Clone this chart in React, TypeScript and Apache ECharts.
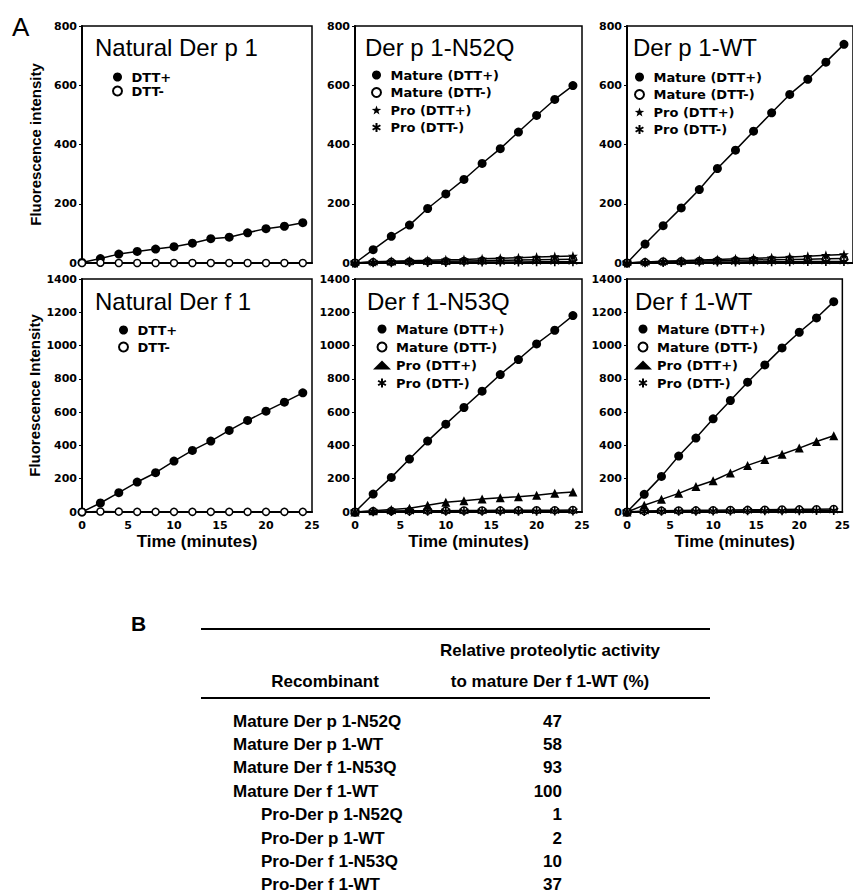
import React, { useEffect, useRef } from "react";
import * as echarts from "echarts";

// ---------- data ----------
const timeMin = [0, 2, 4, 6, 8, 10, 12, 14, 16, 18, 20, 22, 24];

const natDerp1DttPlus = [2, 15, 30, 39, 47, 55, 67, 82, 87, 102, 116, 124, 136];
const natDerp1DttMinus = [0, 1, 0, 0, 0, 0, 0, 0, 0, 0, 0, 0, 0];

const derp1N52qMatPlus = [0, 45, 90, 128, 184, 233, 282, 336, 386, 442, 498, 552, 599];
const derp1N52qMatMinus = [0, 3, 4, 5, 6, 6, 7, 8, 9, 10, 11, 12, 13];
const derp1N52qProPlus = [0, 4, 6, 8, 9, 11, 12, 14, 16, 18, 20, 22, 24];
const derp1N52qProMinus = [0, 1, 1, 2, 2, 2, 3, 3, 3, 3, 4, 4, 4];

const derp1WtMatPlus = [0, 64, 126, 186, 248, 319, 381, 445, 507, 569, 620, 678, 738];
const derp1WtMatMinus = [0, 3, 5, 6, 7, 8, 9, 10, 11, 12, 13, 14, 15];
const derp1WtProPlus = [0, 3, 6, 8, 10, 12, 14, 16, 18, 20, 23, 26, 29];
const derp1WtProMinus = [0, 1, 2, 2, 3, 3, 3, 4, 4, 4, 5, 5, 5];

const natDerf1DttPlus = [0, 54, 116, 180, 236, 306, 370, 426, 490, 550, 606, 660, 716];
const natDerf1DttMinus = [0, 3, 2, 1, 1, 1, 1, 1, 1, 1, 1, 1, 1];

const derf1N53qMatPlus = [0, 108, 208, 318, 426, 528, 628, 726, 826, 916, 1010, 1092, 1180];
const derf1N53qMatMinus = [0, 5, 6, 7, 8, 8, 9, 9, 10, 10, 11, 11, 12];
const derf1N53qProPlus = [0, 8, 15, 22, 40, 58, 68, 78, 86, 92, 100, 112, 120];
const derf1N53qProMinus = [0, 2, 3, 3, 4, 4, 4, 5, 5, 5, 5, 6, 6];

const derf1WtMatPlus = [0, 106, 214, 336, 444, 560, 670, 780, 884, 986, 1080, 1166, 1264];
const derf1WtMatMinus = [0, 6, 8, 9, 10, 11, 12, 13, 14, 15, 16, 17, 18];
const derf1WtProPlus = [0, 41, 76, 112, 153, 188, 235, 280, 316, 347, 384, 424, 458];
const derf1WtProMinus = [0, 3, 4, 5, 5, 6, 6, 7, 7, 8, 8, 9, 9];

const panelTitles = ["Natural Der p 1", "Der p 1-N52Q", "Der p 1-WT", "Natural Der f 1", "Der f 1-N53Q", "Der f 1-WT"];
const xTicks = [0, 5, 10, 15, 20, 25];
const yMaxTop = 800;
const yMaxBottom = 1400;
const yStep = 200;

const tableHeader1 = "Relative proteolytic activity";
const tableHeader2 = "to mature Der f 1-WT (%)";
const tableHeaderLeft = "Recombinant";
const recombinants = [
  "Mature Der p 1-N52Q",
  "Mature Der p 1-WT",
  "Mature Der f 1-N53Q",
  "Mature Der f 1-WT",
  "Pro-Der p 1-N52Q",
  "Pro-Der p 1-WT",
  "Pro-Der f 1-N53Q",
  "Pro-Der f 1-WT",
];
const activity = [47, 58, 93, 100, 1, 2, 10, 37];

// ---------- styles ----------
const STAR = "path://M0,-10L2.35,-3.24L9.51,-3.09L3.8,1.24L5.88,8.09L0,4L-5.88,8.09L-3.8,1.24L-9.51,-3.09L-2.35,-3.24Z";
const ASTER = "path://M0,-10L0,10M-8.66,-5L8.66,5M-8.66,5L8.66,-5";
const SANS = '"Liberation Sans", Arial, sans-serif';
const WIDE = '"DejaVu Sans", sans-serif';

type Kind = "filled" | "open" | "star" | "tri" | "aster";
function markerStyle(kind: Kind) {
  switch (kind) {
    case "filled":
      return { symbol: "circle", symbolSize: 9, itemStyle: { color: "#000", borderColor: "#000", borderWidth: 0 } };
    case "open":
      return { symbol: "circle", symbolSize: 7, itemStyle: { color: "#fff", borderColor: "#000", borderWidth: 1.5 } };
    case "star":
      return { symbol: STAR, symbolSize: 10, itemStyle: { color: "#000", borderColor: "#000", borderWidth: 0 } };
    case "tri":
      return { symbol: "triangle", symbolSize: 9, itemStyle: { color: "#000", borderColor: "#000", borderWidth: 0 } };
    case "aster":
      return { symbol: ASTER, symbolSize: 9, itemStyle: { color: "#000", borderColor: "#000", borderWidth: 1.6 } };
  }
}
function legendIcon(kind: Kind) {
  if (kind === "filled" || kind === "open") return "circle";
  if (kind === "star") return STAR;
  if (kind === "tri") return "triangle";
  return ASTER;
}

type Spec = { name: string; data: number[]; kind: Kind };
const panels: Spec[][] = [
  [
    { name: "DTT+", data: natDerp1DttPlus, kind: "filled" },
    { name: "DTT-", data: natDerp1DttMinus, kind: "open" },
  ],
  [
    { name: "Mature (DTT+)", data: derp1N52qMatPlus, kind: "filled" },
    { name: "Mature (DTT-)", data: derp1N52qMatMinus, kind: "open" },
    { name: "Pro (DTT+)", data: derp1N52qProPlus, kind: "star" },
    { name: "Pro (DTT-)", data: derp1N52qProMinus, kind: "aster" },
  ],
  [
    { name: "Mature (DTT+)", data: derp1WtMatPlus, kind: "filled" },
    { name: "Mature (DTT-)", data: derp1WtMatMinus, kind: "open" },
    { name: "Pro (DTT+)", data: derp1WtProPlus, kind: "star" },
    { name: "Pro (DTT-)", data: derp1WtProMinus, kind: "aster" },
  ],
  [
    { name: "DTT+", data: natDerf1DttPlus, kind: "filled" },
    { name: "DTT-", data: natDerf1DttMinus, kind: "open" },
  ],
  [
    { name: "Mature (DTT+)", data: derf1N53qMatPlus, kind: "filled" },
    { name: "Mature (DTT-)", data: derf1N53qMatMinus, kind: "open" },
    { name: "Pro (DTT+)", data: derf1N53qProPlus, kind: "tri" },
    { name: "Pro (DTT-)", data: derf1N53qProMinus, kind: "aster" },
  ],
  [
    { name: "Mature (DTT+)", data: derf1WtMatPlus, kind: "filled" },
    { name: "Mature (DTT-)", data: derf1WtMatMinus, kind: "open" },
    { name: "Pro (DTT+)", data: derf1WtProPlus, kind: "tri" },
    { name: "Pro (DTT-)", data: derf1WtProMinus, kind: "aster" },
  ],
];

// layout
const cols = [
  { left: 82, right: 312 },
  { left: 355, right: 582 },
  { left: 627, right: 855 },
];
const rows = [
  { top: 26, bottom: 263 },
  { top: 279, bottom: 512 },
];
const titlePos = [
  { x: 95, y: 35 },
  { x: 365, y: 35 },
  { x: 633, y: 35 },
  { x: 95, y: 289 },
  { x: 367, y: 289 },
  { x: 635, y: 289 },
];
const legendPos = [
  { x: 112, y: 70, gap: 0 },
  { x: 371, y: 68, gap: 3.5 },
  { x: 634, y: 70, gap: 3.5 },
  { x: 118, y: 323, gap: 3 },
  { x: 373, y: 322, gap: 4 },
  { x: 634, y: 322, gap: 4 },
];

function buildOption() {
  const grid: any[] = [];
  const xAxis: any[] = [];
  const yAxis: any[] = [];
  const series: any[] = [];
  const legend: any[] = [];
  const title: any[] = [];

  panels.forEach((specs, p) => {
    const r = Math.floor(p / 3);
    const c = p % 3;
    const col = cols[c];
    const row = rows[r];
    grid.push({
      left: col.left,
      top: row.top,
      width: col.right - col.left,
      height: row.bottom - row.top,
      show: true,
      borderColor: "#000",
      borderWidth: 1.5,
      backgroundColor: "transparent",
      containLabel: false,
    });
    xAxis.push({
      gridIndex: p,
      type: "value",
      min: xTicks[0],
      max: xTicks[xTicks.length - 1],
      interval: 5,
      axisLine: { show: true, onZero: false, lineStyle: { color: "#000", width: 2 } },
      axisTick: { show: false },
      splitLine: { show: false },
      axisLabel: {
        show: r === 1,
        color: "#000",
        fontFamily: WIDE,
        fontWeight: "bold",
        fontSize: 11,
        margin: 8,
        formatter: (v: number) => String(v),
      },
      name: r === 1 ? "Time (minutes)" : "",
      nameLocation: "middle",
      nameGap: 21,
      nameTextStyle: { color: "#000", fontFamily: SANS, fontWeight: "bold", fontSize: 17 },
    });
    yAxis.push({
      gridIndex: p,
      type: "value",
      min: 0,
      max: r === 0 ? yMaxTop : yMaxBottom,
      interval: yStep,
      axisLine: { show: true, onZero: false, lineStyle: { color: "#000", width: 2 } },
      axisTick: { show: true, length: 3, lineStyle: { color: "#000", width: 1 } },
      splitLine: { show: false },
      axisLabel: {
        color: "#000",
        fontFamily: WIDE,
        fontWeight: "bold",
        fontSize: 11,
        margin: 5,
        formatter: (v: number) => String(v),
      },
      name: c === 0 ? (r === 0 ? "Fluorescence intensity" : "Fluorescence Intensity") : "",
      nameLocation: "middle",
      nameGap: 39,
      nameTextStyle: { color: "#000", fontFamily: SANS, fontWeight: "bold", fontSize: 15 },
    });
    specs.forEach((s) => {
      const m = markerStyle(s.kind);
      series.push({
        type: "line",
        name: s.name,
        xAxisIndex: p,
        yAxisIndex: p,
        data: timeMin.map((t, i) => [t, s.data[i]]),
        symbol: m.symbol,
        symbolSize: m.symbolSize,
        showAllSymbol: true,
        itemStyle: m.itemStyle,
        lineStyle: { color: "#000", width: 1.5 },
        emphasis: { disabled: true },
        clip: false,
      });
    });
    const lp = legendPos[p];
    legend.push({
      orient: "vertical",
      left: lp.x,
      top: lp.y,
      padding: 0,
      itemWidth: 18,
      itemHeight: 9,
      itemGap: lp.gap,
      selectedMode: false,
      textStyle: { color: "#000", fontFamily: WIDE, fontWeight: "bold", fontSize: 13, lineHeight: 14 },
      data: specs.map((s) => ({ name: s.name, icon: legendIcon(s.kind) })),
    });
    const tp = titlePos[p];
    title.push({
      text: panelTitles[p],
      left: tp.x,
      top: tp.y,
      padding: 0,
      textStyle: { color: "#000", fontFamily: SANS, fontWeight: "normal", fontSize: 24 },
    });
  });

  // table B and panel letters
  const graphic: any[] = [];
  graphic.push({
    type: "text",
    x: 12,
    y: 27,
    style: { text: "A", fill: "#000", font: `26px ${SANS}`, textAlign: "left", textVerticalAlign: "middle" },
  });
  graphic.push({
    type: "text",
    x: 131,
    y: 623,
    style: { text: "B", fill: "#000", font: `bold 21px ${SANS}`, textAlign: "left", textVerticalAlign: "middle" },
  });
  graphic.push({ type: "line", shape: { x1: 201, y1: 629, x2: 710, y2: 629 }, style: { stroke: "#000", lineWidth: 2 } });
  graphic.push({ type: "line", shape: { x1: 201, y1: 698, x2: 710, y2: 698 }, style: { stroke: "#000", lineWidth: 2 } });
  graphic.push({
    type: "text",
    x: 550,
    y: 650,
    style: { text: tableHeader1, fill: "#000", font: `bold 17px ${SANS}`, textAlign: "center", textVerticalAlign: "middle" },
  });
  graphic.push({
    type: "text",
    x: 550,
    y: 681,
    style: { text: tableHeader2, fill: "#000", font: `bold 17px ${SANS}`, textAlign: "center", textVerticalAlign: "middle" },
  });
  graphic.push({
    type: "text",
    x: 325,
    y: 681,
    style: { text: tableHeaderLeft, fill: "#000", font: `bold 17px ${SANS}`, textAlign: "center", textVerticalAlign: "middle" },
  });
  recombinants.forEach((name, i) => {
    const y = 721 + i * 23.4;
    const isPro = name.startsWith("Pro");
    graphic.push({
      type: "text",
      x: isPro ? 261 : 233,
      y,
      style: { text: name, fill: "#000", font: `bold 17px ${SANS}`, textAlign: "left", textVerticalAlign: "middle" },
    });
    graphic.push({
      type: "text",
      x: 562,
      y,
      style: { text: String(activity[i]), fill: "#000", font: `bold 17px ${SANS}`, textAlign: "right", textVerticalAlign: "middle" },
    });
  });

  return {
    animation: false,
    backgroundColor: "#fff",
    title,
    legend,
    grid,
    xAxis,
    yAxis,
    series,
    graphic,
  };
}

export default function App() {
  const ref = useRef<HTMLDivElement>(null);
  useEffect(() => {
    if (!ref.current) return;
    const chart = echarts.init(ref.current, null, { renderer: "svg" });
    chart.setOption(buildOption() as any);
    return () => chart.dispose();
  }, []);
  return (
    <div
      ref={ref}
      style={{ position: "absolute", left: 0, top: 0, width: 853, height: 896, background: "#fff" }}
    />
  );
}
